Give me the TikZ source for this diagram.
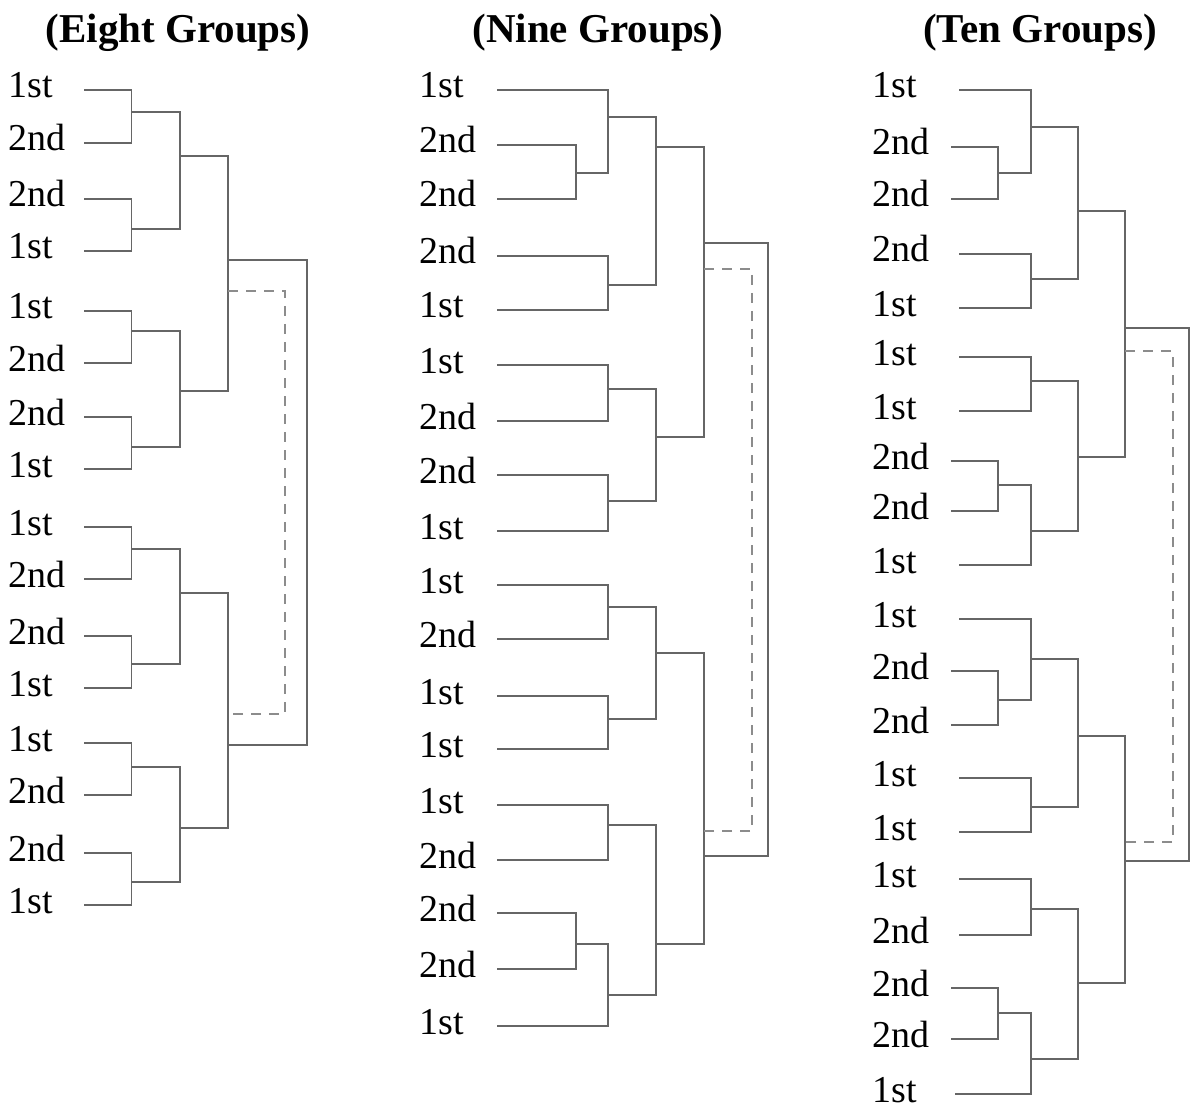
\documentclass[tikz,border=0pt]{standalone}
\usepackage{fontspec}
\setmainfont{Liberation Serif}
\usepackage{tikz}

\tikzset{
    seed/.style={font=\fontsize{19}{19}\selectfont, anchor=base west, inner sep=0pt},
    head/.style={font=\bfseries\fontsize{20.5}{21}\selectfont, anchor=base, inner sep=0pt},
    wire/.style={draw=black!60, line width=0.75pt},
    spare/.style={draw=black!45, line width=0.75pt, dash pattern=on 5pt off 4pt},
}

\begin{document}
\begin{tikzpicture}[x=0.5pt, y=-0.5pt]
        \useasboundingbox (0,0) rectangle (1192,1112);

        % eight groups
        \begin{scope}[name prefix=A-]
            \node[head] (title) at (178,43) {(Eight Groups)};
            \foreach \y/\t [count=\i] in {90/1st, 143/2nd, 199/2nd, 251/1st,
                311/1st, 363/2nd, 417/2nd, 469/1st, 527/1st, 579/2nd, 636/2nd,
                688/1st, 743/1st, 795/2nd, 853/2nd, 905/1st} {
                \node[seed] (l\i) at (8,\y+8) {\t};
                \coordinate (r\i) at (84,\y);
            }
            \foreach \n/\y in {1/112, 2/229, 3/331, 4/447, 5/549, 6/664, 7/767, 8/882}
                \coordinate (m\n) at (131.5,\y);
            \foreach \n/\y in {1/156, 2/391, 3/593, 4/828}
                \coordinate (n\n) at (180,\y);
            \coordinate (q1) at (228,260);
            \coordinate (q2) at (228,745);
            \coordinate (f) at (307,500);
            \coordinate (d1) at (228,291);
            \coordinate (d2) at (228,714);
            \coordinate (dm) at (285,500);

            \foreach \a/\m/\b in {r1/m1/r2, r3/m2/r4, r5/m3/r6, r7/m4/r8,
                r9/m5/r10, r11/m6/r12, r13/m7/r14, r15/m8/r16,
                m1/n1/m2, m3/n2/m4, m5/n3/m6, m7/n4/m8,
                n1/q1/n2, n3/q2/n4, q1/f/q2}
                \draw[wire] (\a) -| (\m) |- (\b);
            \draw[spare] (d1) -| (dm) |- (d2);
        \end{scope}

        % nine groups
        \begin{scope}[name prefix=B-]
            \node[head] (title) at (598,43) {(Nine Groups)};
            \foreach \y/\t [count=\i] in {90/1st, 145/2nd, 199/2nd, 256/2nd,
                310/1st, 365/1st, 421/2nd, 475/2nd, 531/1st, 585/1st, 639/2nd,
                696/1st, 749/1st, 805/1st, 860/2nd, 913/2nd, 969/2nd, 1026/1st} {
                \node[seed] (l\i) at (419,\y+8) {\t};
                \coordinate (r\i) at (497,\y);
            }
            \coordinate (s1) at (576,173);
            \coordinate (s2) at (576,944);
            \foreach \n/\y in {1/117, 2/285, 3/389, 4/501, 5/607, 6/719, 7/825, 8/995}
                \coordinate (m\n) at (608,\y);
            \foreach \n/\y in {1/147, 2/437, 3/653, 4/944}
                \coordinate (n\n) at (656,\y);
            \coordinate (q1) at (704,243);
            \coordinate (q2) at (704,856);
            \coordinate (f) at (768,550);
            \coordinate (d1) at (704,269);
            \coordinate (d2) at (704,831);
            \coordinate (dm) at (752,550);

            \foreach \a/\m/\b in {r2/s1/r3, r16/s2/r17,
                r1/m1/s1, r4/m2/r5, r6/m3/r7, r8/m4/r9,
                r10/m5/r11, r12/m6/r13, r14/m7/r15, s2/m8/r18,
                m1/n1/m2, m3/n2/m4, m5/n3/m6, m7/n4/m8,
                n1/q1/n2, n3/q2/n4, q1/f/q2}
                \draw[wire] (\a) -| (\m) |- (\b);
            \draw[spare] (d1) -| (dm) |- (d2);
        \end{scope}

        % ten groups
        \begin{scope}[name prefix=C-]
            \node[head] (title) at (1040,43) {(Ten Groups)};
            \foreach \y/\t/\s [count=\i] in {90/1st/959, 147/2nd/951, 199/2nd/951,
                254/2nd/959, 308/1st/959, 357/1st/959, 411/1st/959, 461/2nd/951,
                511/2nd/951, 565/1st/959, 619/1st/959, 671/2nd/951, 725/2nd/951,
                778/1st/959, 832/1st/959, 879/1st/959, 935/2nd/959, 988/2nd/951,
                1039/2nd/951, 1094/1st/955} {
                \node[seed] (l\i) at (872,\y+8) {\t};
                \coordinate (r\i) at (\s,\y);
            }
            \foreach \n/\y in {1/173, 2/485, 3/700, 4/1013}
                \coordinate (s\n) at (998,\y);
            \foreach \n/\y in {1/127, 2/279, 3/381, 4/531, 5/659, 6/807, 7/909, 8/1059}
                \coordinate (m\n) at (1031,\y);
            \foreach \n/\y in {1/211, 2/457, 3/736, 4/983}
                \coordinate (n\n) at (1078,\y);
            \coordinate (q1) at (1125,328);
            \coordinate (q2) at (1125,861);
            \coordinate (f) at (1189,600);
            \coordinate (d1) at (1125,351);
            \coordinate (d2) at (1125,842);
            \coordinate (dm) at (1173,600);

            \foreach \a/\m/\b in {r2/s1/r3, r8/s2/r9, r12/s3/r13, r18/s4/r19,
                r1/m1/s1, r4/m2/r5, r6/m3/r7, s2/m4/r10,
                r11/m5/s3, r14/m6/r15, r16/m7/r17, s4/m8/r20,
                m1/n1/m2, m3/n2/m4, m5/n3/m6, m7/n4/m8,
                n1/q1/n2, n3/q2/n4, q1/f/q2}
                \draw[wire] (\a) -| (\m) |- (\b);
            \draw[spare] (d1) -| (dm) |- (d2);
        \end{scope}
    \end{tikzpicture}
\end{document}
